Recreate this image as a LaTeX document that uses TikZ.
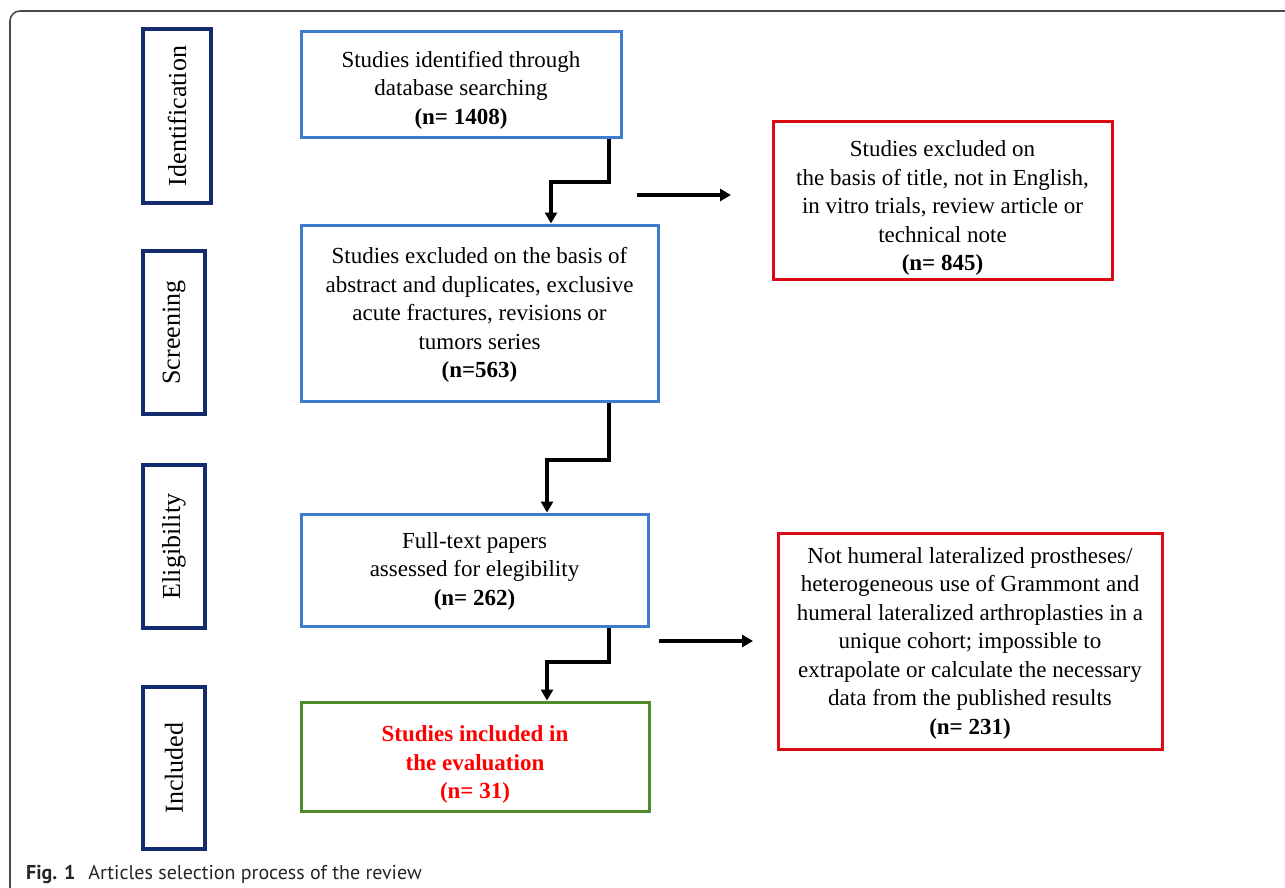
\documentclass[tikz,border=0pt]{standalone}
\usepackage{fontspec}
\setmainfont{Liberation Serif}
\newfontfamily\capfont{PT Sans}
\usetikzlibrary{arrows.meta}
\definecolor{navy}{HTML}{142C6E}
\definecolor{bblue}{HTML}{3F7BD0}
\definecolor{bred}{HTML}{DA0A14}
\definecolor{bgreen}{HTML}{4F8A2C}
\definecolor{frame}{HTML}{4A4A4A}
\tikzset{
  stage/.style={draw=navy, line width=3.2pt, rotate=90, font=\fontsize{26}{30}\selectfont, inner sep=0pt},
  flowbox/.style={draw=bblue, line width=3pt, inner sep=0pt},
  redbox/.style={flowbox, draw=bred},
  greenbox/.style={flowbox, draw=bgreen},
  boxtext/.style={align=center, font=\fontsize{23}{28.5}\selectfont, inner sep=0pt},
  conn/.style={line width=3.2pt, -{Triangle[length=11pt,width=12pt]}},
}
\begin{document}
\begin{tikzpicture}[x=1pt,y=-1pt]
\useasboundingbox (0,0) rectangle (1285,887);
\draw[frame, line width=1.6pt, rounded corners=10pt] (10,900) -- (10,11) -- (1300,11);

% stage labels
\node[stage, minimum width=174, minimum height=68] (id) at (177,116) {Identification};
\node[stage, minimum width=163, minimum height=62] (scr) at (174,332.5) {Screening};
\node[stage, minimum width=163, minimum height=62] (eli) at (174,546.5) {Eligibility};
\node[stage, minimum width=162, minimum height=62] (inc) at (174,768) {Included};

% flow boxes
\node[flowbox, minimum width=320, minimum height=106] (b1) at (461,84) {};
\node[flowbox, minimum width=357, minimum height=176] (b2) at (479.5,313) {};
\node[flowbox, minimum width=347, minimum height=112] (b3) at (474.5,570) {};
\node[greenbox, minimum width=348, minimum height=109] (b4) at (475,756.5) {};
\node[redbox, minimum width=339, minimum height=158] (r1) at (942.5,200) {};
\node[redbox, minimum width=384, minimum height=216] (r2) at (970,641) {};

% box texts
\node[boxtext] (b1t) at (461,90)
  {Studies identified through\\database searching\\\textbf{(n= 1408)}};
\node[boxtext] (b2t) at (479.5,315)
  {Studies excluded on the basis of\\abstract and duplicates, exclusive\\acute fractures, revisions or\\tumors series\\\textbf{(n=563)}};
\node[boxtext] (b3t) at (474.5,571)
  {Full-text papers\\assessed for elegibility\\\textbf{(n= 262)}};
\node[boxtext, text=red, font=\fontsize{23}{28.5}\selectfont\bfseries] (b4t) at (475,764.5)
  {Studies included in\\the evaluation\\(n= 31)};
\node[boxtext] (r1t) at (942.5,208)
  {Studies excluded on\\the basis of title, not in English,\\in vitro trials, review article or\\technical note\\\textbf{(n= 845)}};
\node[boxtext] (r2t) at (970,643)
  {Not humeral lateralized prostheses/\\heterogeneous use of Grammont and\\humeral lateralized arthroplasties in a\\unique cohort; impossible to\\extrapolate or calculate the necessary\\data from the published results\\\textbf{(n= 231)}};

% connectors
\draw[conn] (b1.south -| 609,0) -- (609,182) -- (551,182) -- (b2.north -| 551,0);
\draw[conn] (b2.south -| 609,0) -- (609,460) -- (547,460) -- (b3.north -| 547,0);
\draw[conn] (b3.south -| 609,0) -- (609,662) -- (547,662) -- (b4.north -| 547,0);

\coordinate (a1s) at (637,195);
\coordinate (a1e) at (731,195);
\coordinate (a2s) at (659,641);
\coordinate (a2e) at (753,641);
\draw[conn] (a1s) -- (a1e);
\draw[conn] (a2s) -- (a2e);

% caption
\node[anchor=base west, inner sep=0pt, font=\capfont\fontsize{20}{24}\selectfont, text=black!85] (cap) at (26,879)
  {\textbf{Fig.\,\,1}\hspace{13pt}Articles selection process of the review};
\end{tikzpicture}
\end{document}
